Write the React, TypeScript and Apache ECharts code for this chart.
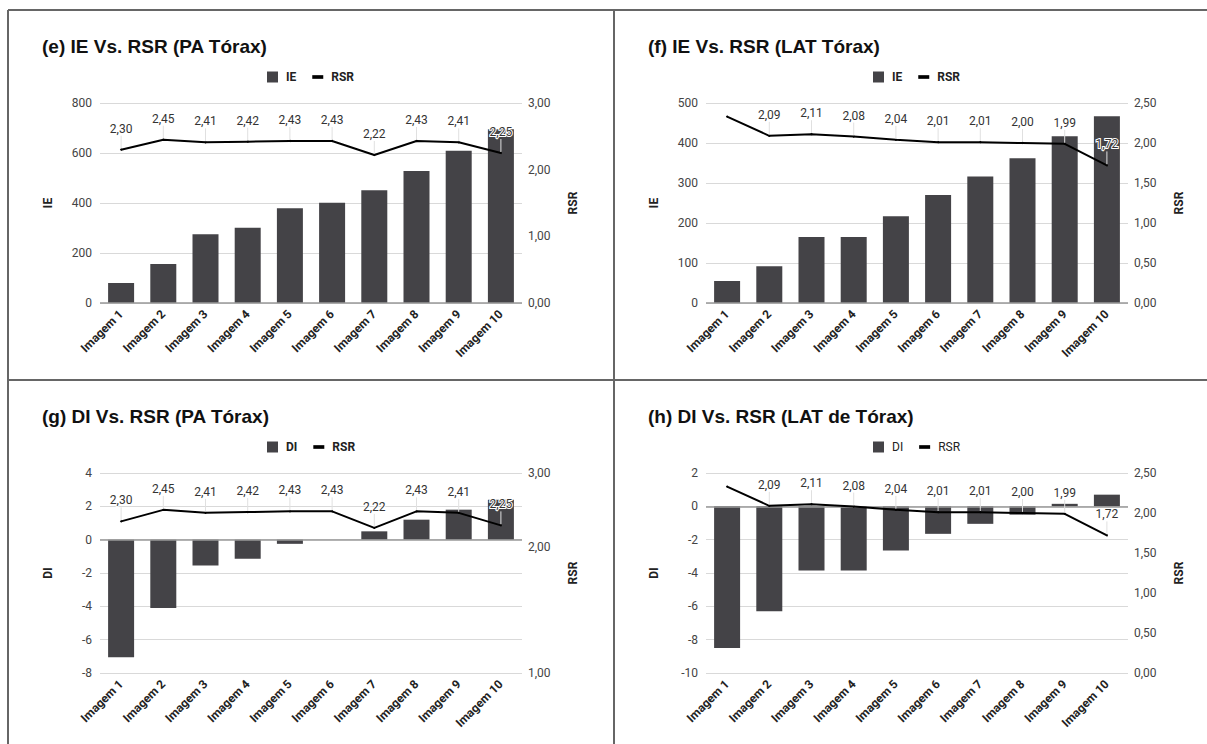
import React, { useEffect, useRef } from "react";
import * as echarts from "echarts";

const categories = ["Imagem 1", "Imagem 2", "Imagem 3", "Imagem 4", "Imagem 5", "Imagem 6", "Imagem 7", "Imagem 8", "Imagem 9", "Imagem 10"];
const iePA = [80, 156, 275, 301, 379, 401, 451, 528, 609, 695];
const rsrPA = [2.3, 2.45, 2.41, 2.42, 2.43, 2.43, 2.22, 2.43, 2.41, 2.25];
const ieLAT = [55, 92, 165, 165, 217, 270, 316, 362, 417, 467];
const rsrLAT = [2.33, 2.09, 2.11, 2.08, 2.04, 2.01, 2.01, 2.0, 1.99, 1.72];
const diPA = [-7.05, -4.1, -1.55, -1.15, -0.25, 0, 0.5, 1.2, 1.8, 2.4];
const diLAT = [-8.5, -6.3, -3.85, -3.85, -2.65, -1.65, -1.05, -0.5, 0.15, 0.7];

const titles = ["(e) IE Vs. RSR (PA Tórax)", "(f) IE Vs. RSR (LAT Tórax)", "(g) DI Vs. RSR (PA Tórax)", "(h) DI Vs. RSR (LAT de Tórax)"];

const BAR = "#444347";
const FONT = "Roboto, 'Liberation Sans', Arial, sans-serif";
const TITLE_FONT = "'Liberation Sans', Arial, sans-serif";
const comma = (v: number, d: number) => v.toFixed(d).replace(".", ",");

type Panel = {
  title: string;
  barName: string;
  bars: number[];
  rsr: number[];
  leftMin: number; leftMax: number; leftInt: number;
  rightType: "value" | "log";
  rightMin: number; rightMax: number; rightInt?: number; rightTicks?: number[];
  legendBold: boolean;
  hideFirstLabel: boolean;
};

const panels: Panel[] = [
  { title: titles[0], barName: "IE", bars: iePA, rsr: rsrPA, leftMin: 0, leftMax: 800, leftInt: 200, rightType: "value", rightMin: 0, rightMax: 3, rightInt: 1, legendBold: true, hideFirstLabel: false },
  { title: titles[1], barName: "IE", bars: ieLAT, rsr: rsrLAT, leftMin: 0, leftMax: 500, leftInt: 100, rightType: "value", rightMin: 0, rightMax: 2.5, rightInt: 0.5, legendBold: true, hideFirstLabel: true },
  { title: titles[2], barName: "DI", bars: diPA, rsr: rsrPA, leftMin: -8, leftMax: 4, leftInt: 2, rightType: "log", rightMin: 1, rightMax: 3, rightTicks: [1, 2, 3], legendBold: true, hideFirstLabel: false },
  { title: titles[3], barName: "DI", bars: diLAT, rsr: rsrLAT, leftMin: -10, leftMax: 2, leftInt: 2, rightType: "value", rightMin: 0, rightMax: 2.5, rightInt: 0.5, legendBold: false, hideFirstLabel: true },
];

export default function App() {
  const ref = useRef<HTMLDivElement>(null);
  useEffect(() => {
    if (!ref.current) return;
    const chart = echarts.init(ref.current, null, { renderer: "svg" });
    const title: any[] = [];
    const legend: any[] = [];
    const grid: any[] = [];
    const xAxis: any[] = [];
    const yAxis: any[] = [];
    const series: any[] = [];
    panels.forEach((p, i) => {
      const ox = (i % 2) * 606;
      const oy = Math.floor(i / 2) * 370;
      title.push({
        text: p.title, left: 42 + ox, top: 37 + oy, padding: 0,
        textStyle: { fontFamily: TITLE_FONT, fontSize: 19, fontWeight: "bold", color: "#111" },
      });
      legend.push({
        left: 267 + ox, top: 71 + oy, padding: 0, itemWidth: 11, itemHeight: 11, itemGap: 16,
        data: [
          { name: p.barName, icon: "rect" },
          { name: "RSR", icon: "path://M0,0 L12,0 L12,4 L0,4 Z" },
        ],
        textStyle: { fontFamily: FONT, fontSize: 12, fontWeight: p.legendBold ? "bold" : "normal", color: "#222", padding: [0, 0, 0, 3] },
      });
      grid.push({ left: 100 + ox, top: 103 + oy, width: 422, height: 200 });
      xAxis.push({
        type: "category", gridIndex: i, data: categories,
        axisLine: { show: false }, axisTick: { show: false },
        axisLabel: { interval: 0, rotate: 45, margin: 9, fontFamily: FONT, fontSize: 12, fontWeight: "bold", color: "#222" },
      });
      yAxis.push({
        type: "value", gridIndex: i, position: "left", min: p.leftMin, max: p.leftMax, interval: p.leftInt,
        name: p.barName, nameLocation: "middle", nameRotate: 90, nameGap: 46,
        nameTextStyle: { fontFamily: FONT, fontSize: 12, fontWeight: "bold", color: "#222" },
        axisLine: { show: false }, axisTick: { show: false },
        axisLabel: { margin: 8, fontFamily: FONT, fontSize: 12, color: "#444" },
        splitLine: { lineStyle: { color: "#d9d9d9", width: 1 } },
      });
      const right: any = {
        type: p.rightType, gridIndex: i, position: "right", min: p.rightMin, max: p.rightMax,
        name: "RSR", nameLocation: "middle", nameRotate: 90, nameGap: 45,
        nameTextStyle: { fontFamily: FONT, fontSize: 12, fontWeight: "bold", color: "#222" },
        axisLine: { show: false }, axisTick: { show: false },
        axisLabel: { margin: 6, fontFamily: FONT, fontSize: 12, color: "#444", formatter: (v: number) => comma(v, 2) },
        splitLine: { show: false },
      };
      if (p.rightType === "log") {
        right.logBase = 10;
        right.axisLabel.customValues = p.rightTicks;
      } else {
        right.interval = p.rightInt;
      }
      yAxis.push(right);
      series.push({
        type: "bar", name: p.barName, xAxisIndex: i, yAxisIndex: i * 2, data: p.bars, barWidth: 26,
        itemStyle: { color: BAR },
        markLine: {
          silent: true, symbol: "none", label: { show: false },
          lineStyle: { color: "#999", width: 1.5, type: "solid" },
          data: [{ yAxis: 0 }],
        },
      });
      series.push({
        type: "line", name: "RSR", xAxisIndex: i, yAxisIndex: i * 2 + 1,
        data: p.rsr.map((v, k) => (p.hideFirstLabel && k === 0 ? { value: v, label: { show: false }, labelLine: { show: false } } : v)),
        symbol: "circle", symbolSize: 2, showSymbol: true,
        itemStyle: { color: "#000" },
        lineStyle: { color: "#000", width: 2 },
        label: {
          show: true, position: "top", distance: 4, fontFamily: FONT, fontSize: 12, color: "#333",
          textBorderColor: "#fff", textBorderWidth: 2,
          formatter: (pr: any) => comma(pr.value, 2),
        },
        labelLayout: { dy: -10 },
        labelLine: { show: true, lineStyle: { color: "#e0e0e0", width: 1 } },
        z: 5,
      });
    });
    const L = "#666";
    const graphic = [
      { type: "line", shape: { x1: 8, y1: 10, x2: 1207, y2: 10 }, style: { stroke: L, lineWidth: 2 } },
      { type: "line", shape: { x1: 8, y1: 10, x2: 8, y2: 744 }, style: { stroke: L, lineWidth: 2 } },
      { type: "line", shape: { x1: 614, y1: 10, x2: 614, y2: 744 }, style: { stroke: L, lineWidth: 2 } },
      { type: "line", shape: { x1: 8, y1: 380, x2: 1207, y2: 380 }, style: { stroke: L, lineWidth: 2 } },
    ];
    chart.setOption({
      animation: false,
      backgroundColor: "#fff",
      title, legend, grid, xAxis, yAxis, series, graphic,
    });
    return () => chart.dispose();
  }, []);
  return <div ref={ref} style={{ position: "absolute", left: 0, top: 0, width: 1207, height: 744 }} />;
}
